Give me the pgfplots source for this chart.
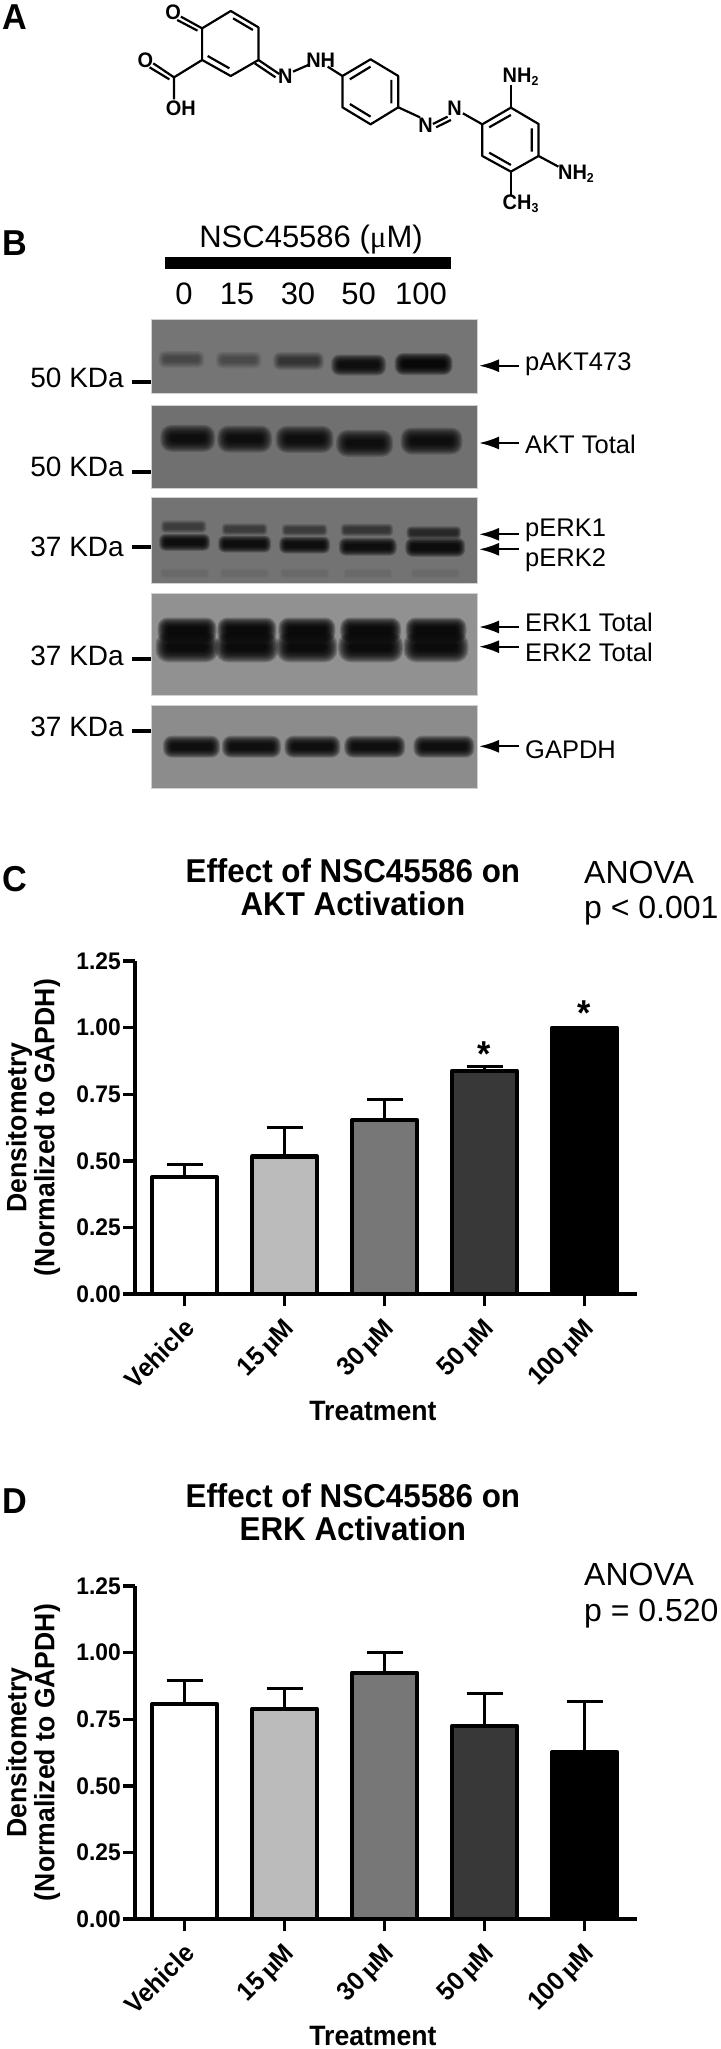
\documentclass[border=0pt]{standalone}
\usepackage{fontspec}
\setmainfont{Liberation Sans}[BoldFeatures={FakeStretch=0.95}]
\newfontfamily\symf{Liberation Serif}
\usepackage{pgfplots}
\pgfplotsset{compat=1.18}
\usetikzlibrary{arrows.meta}
\newcommand\fs[1]{\fontsize{#1}{#1}\selectfont}
\newcommand\um{\,{\symf μ}M}
% gel band: x y w h strength
\newcommand\band[5]{%
  \pgfmathsetmacro\op{#5*0.42}%
  \foreach \k in {0,...,9}{%
    \pgfmathsetmacro\rr{#4*(0.48-\k*0.04)}%
    \fill[black,opacity=\op,rounded corners=\rr pt]
      ({#1-#3/2-3+\k*#4/20},{#2-#4/2-2+\k*#4/20}) rectangle ({#1+#3/2+3-\k*#4/20},{#2+#4/2+2-\k*#4/20});
  }}
\newcommand\blot[3]{\fill[fill=#3,draw=black!18,line width=0.8pt] (151,#1) rectangle (477,#2);}
\newcommand\kda[3]{%
  \node[anchor=east,inner sep=0pt,font=\fs{28}] at (124,#2) {#1};
  \fill[black] (132,{#3-2.2}) rectangle (151,{#3+2.2});}
\newcommand\blotarrow[1]{\draw[line width=2.2pt,-{Latex[length=20pt,width=13pt]}] (519,#1)--(479,#1);}
\newcommand\blotlab[2]{\node[anchor=west,inner sep=0pt,font=\fs{25.5}] at (525,#1) {#2};}
\newcommand\panel[2]{\node[anchor=west,inner sep=0pt,font=\fs{36}\bfseries] at (2,#1) {#2};}

\pgfplotsset{
  dens/.style={
    at={(135pt,#1)}, anchor=south west, scale only axis,
    width=502pt, height=333pt,
    xmin=-0.496, xmax=4.524, ymin=0, ymax=1.25,
    ybar, bar width=65pt, bar shift=0pt, clip=false,
    axis x line=bottom, axis y line=left,
    x axis line style={-,line width=4.2pt},
    y axis line style={-,line width=4.4pt},
    tick align=outside, major tick length=12pt,
    tick style={black,line width=3.4pt},
    xtick={0,1,2,3,4},
    xticklabels={Vehicle,15\um,30\um,50\um,100\um},
    ytick={0,0.25,0.5,0.75,1,1.25},
    yticklabels={0.00,0.25,0.50,0.75,1.00,1.25},
    yticklabel style={font=\fs{24}\bfseries,inner sep=0pt,xshift=-2pt},
    xticklabel style={font=\fs{26}\bfseries,rotate=45,anchor=north east,inner sep=0pt,xshift=-9pt,yshift=-6pt},
    xlabel={Treatment},
    xlabel style={font=\fs{28}\bfseries,at={(rel axis cs:0.474,0)},anchor=center,yshift=-117pt},
    ylabel={Densitometry\\(Normalized to GAPDH)},
    ylabel style={font=\fs{28}\bfseries,at={(rel axis cs:-0.203,0.5)},anchor=center,align=center},
    title style={font=\fs{33}\bfseries,at={(rel axis cs:0.434,1)},anchor=center,align=center,yshift=68pt},
  },
  dbar/.style={fill=#1,draw=black,line width=4.2pt,line join=round,
    error bars/.cd, y dir=plus, y explicit,
    error bar style={line width=3.2pt,black},
    error mark options={black,line width=2.8pt,mark size=18pt,rotate=90}},
}
\definecolor{g1}{HTML}{BBBBBB}
\definecolor{g2}{HTML}{777777}
\definecolor{g3}{HTML}{383838}

\begin{document}
\begin{tikzpicture}
\path[use as bounding box] (0,0) rectangle (720pt,-2049pt);

\begin{scope}[x=1pt,y=-1pt]
\panel{17}{A}\panel{243}{B}\panel{879}{C}\panel{1501}{D}

% panel B, blots
\node[inner sep=0pt,font=\fs{31}] at (311,240) {NSC45586 ({\symf μ}M)};
\fill[black] (165,257) rectangle (451,269);
\foreach \x/\t in {184/0,237/15,298/30,358.5/50,421/100}
  \node[inner sep=0pt,font=\fs{31}] at (\x,294) {\t};

\blot{319}{393}{black!54}
\band{181.4}{359.3}{40}{13}{0.10}\band{238.6}{360}{40}{13}{0.09}\band{298.6}{361}{45}{14}{0.17}
\band{358.6}{365}{49}{17}{0.42}\band{423.6}{364}{52}{18}{0.5}
\blot{405}{488}{black!56}
\band{187.8}{438.3}{49}{23}{0.42}\band{244.6}{439}{49}{23}{0.42}\band{304.6}{439.3}{52}{23}{0.42}
\band{364.6}{443.3}{51}{23}{0.42}\band{431.5}{441}{56}{23}{0.42}
\blot{497}{583}{black!55}
\band{183.7}{526.7}{40}{9}{0.14}\band{244.6}{529.3}{40}{8}{0.14}\band{304.6}{530}{40}{8}{0.14}
\band{366.9}{530}{47}{9}{0.16}\band{433.8}{532.7}{49}{9}{0.22}
\band{184.6}{542.3}{45}{13}{0.42}\band{244.6}{544}{47}{13}{0.42}\band{304.6}{545}{45}{13}{0.42}
\band{367.8}{546.7}{52}{14}{0.42}\band{435.2}{547.3}{54}{15}{0.45}
\foreach \x in {184.6,244.6,304.6,367.8,435.2} {\band{\x}{573.3}{44}{7}{0.008}}
\blot{593}{695}{black!43}
\foreach \x/\w in {187/53,246.9/53,306.9/51,370.6/55,436/55} {\band{\x}{630}{\w}{21}{0.5}}
\foreach \x/\w in {187/57,246.9/57,306.9/55,370.6/59,436/59} {\band{\x}{647.3}{\w}{26}{0.5}}
\blot{705}{788}{black!45}
\foreach \x/\w in {191.5/51,251.5/53,312.4/50,374.7/55,443.9/55} {\band{\x}{746.7}{\w}{18}{0.45}}

\kda{50 KDa}{378}{382}\kda{50 KDa}{467}{472}\kda{37 KDa}{547}{547}
\kda{37 KDa}{656}{659}\kda{37 KDa}{727}{731}
\blotarrow{365.7}\blotarrow{443}\blotarrow{534.3}\blotarrow{549.3}\blotarrow{627}\blotarrow{646.7}\blotarrow{746.3}
\blotlab{364}{pAKT473}\blotlab{444}{AKT Total}\blotlab{530}{pERK1}\blotlab{560}{pERK2}
\blotlab{622}{ERK1 Total}\blotlab{652}{ERK2 Total}\blotlab{750}{GAPDH}
\end{scope}

% panel A, structure, in zoomed crop units
\begin{scope}[x=0.4615pt,y=-0.3333pt,line width=2.2pt,line join=round,every node/.style={inner sep=0pt,font=\fs{21}\bfseries}]
\draw (438,85)--(500,33)--(560,82)--(560,180)--(500,228)--(438,180)--cycle;
\draw (505,55)--(548,90) (450,168)--(497,205);
\draw (438,85)--(392,50) (428,92)--(384,60);
\node at (375,38) {O};
\draw (438,180)--(377,232)--(377,298);
\draw (377,232)--(332,190) (367,238)--(324,202);
\node at (315,180) {O};
\node at (392,324) {OH};
\draw (560,180)--(605,222) (552,190)--(597,232);
\node at (618,230) {N};
\draw (635,215)--(668,195);
\node at (695,180) {NH};
\draw (710,200)--(742,228);
\draw (742,228)--(803,178)--(863,228)--(863,322)--(803,373)--(742,322)--cycle;
\draw (758,238)--(803,200) (848,240)--(848,310) (758,312)--(803,350);
\draw (863,322)--(910,352);
\node at (922,375) {N};
\draw (938,372)--(970,350) (945,382)--(977,360);
\node at (985,325) {N};
\draw (1003,340)--(1045,373);
\draw (1045,373)--(1107,323)--(1167,372)--(1167,468)--(1107,515)--(1045,468)--cycle;
\draw (1060,382)--(1107,345) (1152,385)--(1152,455) (1060,458)--(1107,495);
\draw (1107,323)--(1107,255);
\node at (1128,230) {NH\raisebox{-3pt}{\fs{13}\bfseries 2}};
\draw (1167,468)--(1210,500);
\node at (1248,520) {NH\raisebox{-3pt}{\fs{13}\bfseries 2}};
\draw (1107,515)--(1107,585);
\node at (1128,612) {CH\raisebox{-3pt}{\fs{13}\bfseries 3}};
\end{scope}

% panel C
\begin{axis}[dens=-1294pt, title={Effect of NSC45586 on\\AKT Activation}]
\addplot[dbar=white] coordinates {(0,0.438) +- (0,0.049)};
\addplot[dbar=g1] coordinates {(1,0.516) +- (0,0.110)};
\addplot[dbar=g2] coordinates {(2,0.653) +- (0,0.078)};
\addplot[dbar=g3] coordinates {(3,0.838) +- (0,0.015)};
\addplot[dbar=black] coordinates {(4,1.000) +- (0,0.000)};
\node[font=\fs{36}\bfseries] at (axis cs:3,0.90) {*};
\node[font=\fs{36}\bfseries] at (axis cs:4,1.055) {*};
\end{axis}
% panel D
\begin{axis}[dens=-1919pt, title={Effect of NSC45586 on\\ERK Activation}]
\addplot[dbar=white] coordinates {(0,0.807) +- (0,0.087)};
\addplot[dbar=g1] coordinates {(1,0.789) +- (0,0.075)};
\addplot[dbar=g2] coordinates {(2,0.925) +- (0,0.075)};
\addplot[dbar=g3] coordinates {(3,0.725) +- (0,0.121)};
\addplot[dbar=black] coordinates {(4,0.627) +- (0,0.191)};
\end{axis}

\begin{scope}[x=1pt,y=-1pt,every node/.style={anchor=west,inner sep=0pt,font=\fs{32}}]
\node at (584,872) {ANOVA};
\node at (584,911) {p < 0.001};
\node at (584,1574) {ANOVA};
\node at (584,1614) {p = 0.520};
\end{scope}
\end{tikzpicture}
\end{document}
